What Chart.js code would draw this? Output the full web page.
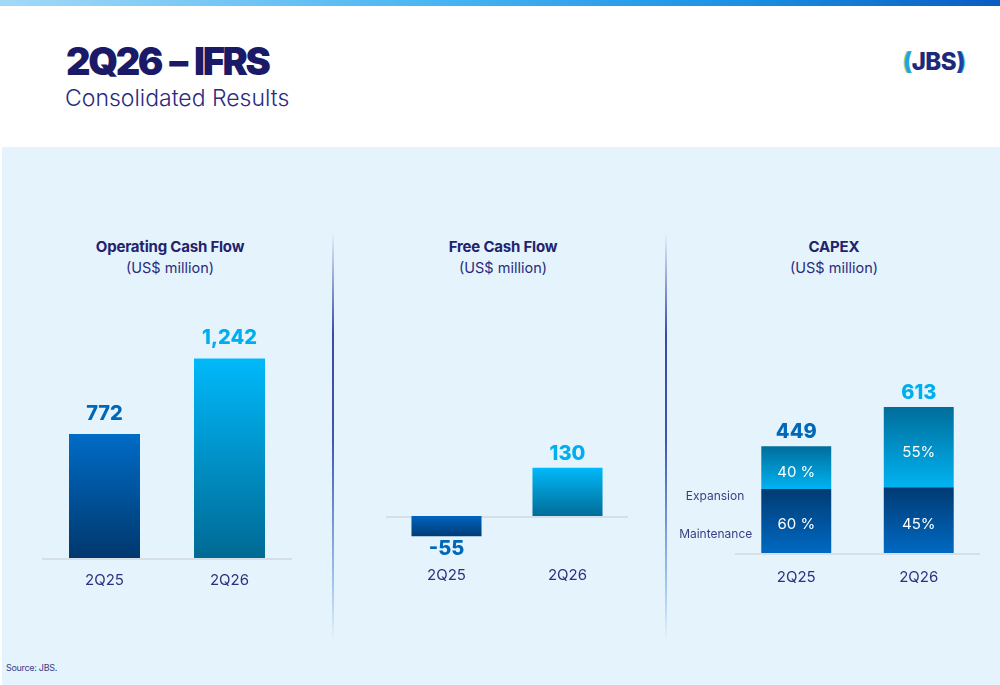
<!DOCTYPE html>
<html>
<head>
<meta charset="utf-8">
<script src="https://cdn.jsdelivr.net/npm/chart.js@4.4.1/dist/chart.umd.min.js"></script>
<style>
  html,body{margin:0;padding:0;}
  body{width:1000px;height:685px;position:relative;overflow:hidden;background:#ffffff;font-family:Inter,"Noto Sans",sans-serif;}
  .abs{position:absolute;}
  .topbar{left:0;top:0;width:1000px;height:6px;background:linear-gradient(90deg,#a3d9f7 0%,#45b4f2 45%,#1a8fe4 75%,#0a5cc0 100%);}
  .h1{left:66px;top:41px;font-size:38px;font-weight:900;color:#1b1a66;letter-spacing:-2.4px;word-spacing:3px;line-height:40px;white-space:nowrap;}
  .h2{left:65px;top:85px;font-size:23px;font-weight:300;color:#2b2a80;line-height:26px;white-space:nowrap;}
  .logo{left:903px;top:45px;font-size:24px;line-height:34px;font-weight:800;white-space:nowrap;letter-spacing:-0.5px;}
  .panel{left:2px;top:147px;width:998px;height:538px;background:#e5f4fc;}
  .divider{width:2px;top:232px;height:410px;background:linear-gradient(180deg,rgba(58,74,168,0) 0%,#3a4aa8 25%,#3d55b0 50%,#9fc2ee 85%,rgba(160,200,240,0) 100%);}
  .ct{font-size:15px;font-weight:700;color:#23226e;text-align:center;width:300px;line-height:20px;white-space:nowrap;letter-spacing:-0.2px;}
  .cs{font-size:14.5px;font-weight:400;color:#2b2a80;text-align:center;width:300px;line-height:20px;white-space:nowrap;}
  .src{left:6px;top:662px;font-size:9px;color:#3a3a8a;letter-spacing:-0.3px;}
</style>
</head>
<body>
<div class="abs topbar"></div>
<div class="abs h1">2Q26 – IFRS</div>
<div class="abs h2">Consolidated Results</div>
<div class="abs logo"><span style="color:#1fa4e0;text-shadow:-1px 0 #8ed04a">(</span><span style="color:#1e2a78">JBS</span><span style="color:#1e3fa0;text-shadow:1px 0 #2ab0e8">)</span></div>
<div class="abs panel"></div>
<div class="abs divider" style="left:332px;"></div>
<div class="abs divider" style="left:665px;"></div>

<div class="abs ct" style="left:20px;top:237px;">Operating Cash Flow</div>
<div class="abs cs" style="left:20px;top:258px;">(US$ million)</div>
<div class="abs ct" style="left:353px;top:237px;">Free Cash Flow</div>
<div class="abs cs" style="left:353px;top:258px;">(US$ million)</div>
<div class="abs ct" style="left:684px;top:237px;">CAPEX</div>
<div class="abs cs" style="left:684px;top:258px;">(US$ million)</div>

<div class="abs" style="left:42px;top:300px;width:250px;height:300px;"><canvas id="c1"></canvas></div>
<div class="abs" style="left:386px;top:400px;width:242px;height:200px;"><canvas id="c2"></canvas></div>
<div class="abs" style="left:670px;top:370px;width:310px;height:230px;"><canvas id="c3"></canvas></div>

<div class="abs src">Source: JBS.</div>

<script>
// ---------- DATA ----------
const categories = ['2Q25', '2Q26'];
const operatingCashFlow = [772, 1242];
const freeCashFlow = [-55, 130];
const capexTotal = [449, 613];
const capexMaintenancePct = [60, 45];
const capexExpansionPct = [40, 55];
const capexMaintenanceLabels = ['60 %', '45%'];
const capexExpansionLabels = ['40 %', '55%'];
const capexSeriesNames = ['Maintenance', 'Expansion'];

const capexMaintenance = capexTotal.map((t, i) => t * capexMaintenancePct[i] / 100);
const capexExpansion = capexTotal.map((t, i) => t * capexExpansionPct[i] / 100);

// ---------- STYLE ----------
const FONT = 'Inter, "Noto Sans", sans-serif';
const CAT_COLOR = '#2e3180';
const VAL_COLORS = ['#0068b8', '#00aef0'];
Chart.defaults.font.family = FONT;

function fmt(v) { return v.toLocaleString('en-US'); }

function gradFill(stops, fromVal, toVal) {
  return function (c) {
    const chart = c.chart;
    if (!chart.chartArea) return stops[0];
    const y = chart.scales.y;
    const i = c.dataIndex;
    const t = y.getPixelForValue(fromVal(i));
    const b = y.getPixelForValue(toVal(i));
    const g = chart.ctx.createLinearGradient(0, t, 0, b);
    g.addColorStop(0, stops[0]);
    g.addColorStop(1, stops[1]);
    return g;
  };
}

function baselinePlugin(id) {
  return {
    id: id,
    beforeDatasetsDraw(chart) {
      const { ctx, chartArea } = chart;
      const y0 = chart.scales.y.getPixelForValue(0);
      ctx.save();
      ctx.strokeStyle = '#d6dfe8';
      ctx.lineWidth = 2;
      ctx.beginPath();
      ctx.moveTo(chartArea.left, y0 + 1);
      ctx.lineTo(chartArea.right, y0 + 1);
      ctx.stroke();
      ctx.restore();
    }
  };
}

function labelsPlugin(id, values, topOffset, bottomOffset, catOffset) {
  return {
    id: id,
    afterDatasetsDraw(chart) {
      const { ctx } = chart;
      const x = chart.scales.x, y = chart.scales.y;
      const y0 = y.getPixelForValue(0);
      ctx.save();
      ctx.textAlign = 'center';
      ctx.textBaseline = 'middle';
      values.forEach((v, i) => {
        const px = x.getPixelForValue(i);
        ctx.font = '800 20px ' + FONT;
        ctx.fillStyle = VAL_COLORS[i];
        const py = v >= 0 ? y.getPixelForValue(v) - topOffset : y.getPixelForValue(v) + bottomOffset;
        ctx.fillText(fmt(v), px, py);
        ctx.font = '400 15px ' + FONT;
        ctx.fillStyle = CAT_COLOR;
        ctx.fillText(categories[i], px, y0 + catOffset);
      });
      ctx.restore();
    }
  };
}

const baseOptions = (padding, ymin, ymax, stacked) => ({
  responsive: true,
  maintainAspectRatio: false,
  animation: false,
  layout: { padding: padding },
  plugins: { legend: { display: false }, tooltip: { enabled: false } },
  scales: {
    x: { display: false, stacked: !!stacked },
    y: { display: false, min: ymin, max: ymax, stacked: !!stacked }
  }
});

// ---------- CHART 1: Operating Cash Flow ----------
const ocfStops = [['#006cc6', '#00386e'], ['#00b9fa', '#006a94']];
new Chart(document.getElementById('c1'), {
  type: 'bar',
  data: {
    labels: categories,
    datasets: [{
      data: operatingCashFlow,
      categoryPercentage: 1,
      barPercentage: 0.568,
      borderWidth: 0,
      backgroundColor: (c) => gradFill(ocfStops[c.dataIndex], i => operatingCashFlow[i], () => 0)(c)
    }]
  },
  options: baseOptions({ top: 0, bottom: 42, left: 0, right: 0 }, 0, 1606),
  plugins: [baselinePlugin('bl1'), labelsPlugin('lb1', operatingCashFlow, 20, 13, 22)]
});

// ---------- CHART 2: Free Cash Flow ----------
const fcfStops = [['#0063bd', '#003c77'], ['#00b9f9', '#006c99']];
new Chart(document.getElementById('c2'), {
  type: 'bar',
  data: {
    labels: categories,
    datasets: [{
      data: freeCashFlow,
      categoryPercentage: 1,
      barPercentage: 0.579,
      borderWidth: 0,
      backgroundColor: (c) => gradFill(fcfStops[c.dataIndex], i => Math.max(freeCashFlow[i], 0), i => Math.min(freeCashFlow[i], 0))(c)
    }]
  },
  options: baseOptions({ top: 30, bottom: 40, left: 0, right: 0 }, -119, 232),
  plugins: [baselinePlugin('bl2'), labelsPlugin('lb2', freeCashFlow, 14, 13, 60)]
});

// ---------- CHART 3: CAPEX ----------
const maintStops = ['#003b73', '#0069c2'];
const expStops = ['#006d9b', '#00b3f1'];
const capexLabelsPlugin = {
  id: 'lb3',
  afterDatasetsDraw(chart) {
    const { ctx } = chart;
    const x = chart.scales.x, y = chart.scales.y;
    const y0 = y.getPixelForValue(0);
    ctx.save();
    ctx.textBaseline = 'middle';
    categories.forEach((cat, i) => {
      const px = x.getPixelForValue(i);
      ctx.textAlign = 'center';
      ctx.font = '800 20px ' + FONT;
      ctx.fillStyle = VAL_COLORS[i];
      ctx.fillText(fmt(capexTotal[i]), px, y.getPixelForValue(capexTotal[i]) - 14);
      ctx.font = '400 15px ' + FONT;
      ctx.fillStyle = '#ffffff';
      const mTop = y.getPixelForValue(capexMaintenance[i]);
      const tTop = y.getPixelForValue(capexTotal[i]);
      ctx.fillText(capexMaintenanceLabels[i], px, (mTop + y0) / 2 + 4);
      ctx.fillText(capexExpansionLabels[i], px, (tTop + mTop) / 2 + 5);
      ctx.fillStyle = CAT_COLOR;
      ctx.fillText(cat, px, y0 + 24);
    });
    const meta = chart.getDatasetMeta(0).data[0];
    const left = meta.x - meta.width / 2;
    ctx.textAlign = 'right';
    ctx.font = '400 12px ' + FONT;
    ctx.fillStyle = '#3b3c82';
    ctx.fillText(capexSeriesNames[1], left - 17, y.getPixelForValue(capexMaintenance[0]) + 8);
    ctx.fillText(capexSeriesNames[0], left - 9, y0 - 19);
    ctx.restore();
  }
};
new Chart(document.getElementById('c3'), {
  type: 'bar',
  data: {
    labels: categories,
    datasets: [
      {
        label: capexSeriesNames[0],
        data: capexMaintenance,
        categoryPercentage: 1,
        barPercentage: 0.571,
        borderWidth: 0,
        backgroundColor: gradFill(maintStops, i => capexMaintenance[i], () => 0)
      },
      {
        label: capexSeriesNames[1],
        data: capexExpansion,
        categoryPercentage: 1,
        barPercentage: 0.571,
        borderWidth: 0,
        backgroundColor: gradFill(expStops, i => capexTotal[i], i => capexMaintenance[i])
      }
    ]
  },
  options: baseOptions({ top: 0, bottom: 47, left: 65, right: 0 }, 0, 769, true),
  plugins: [baselinePlugin('bl3'), capexLabelsPlugin]
});
</script>
</body>
</html>
